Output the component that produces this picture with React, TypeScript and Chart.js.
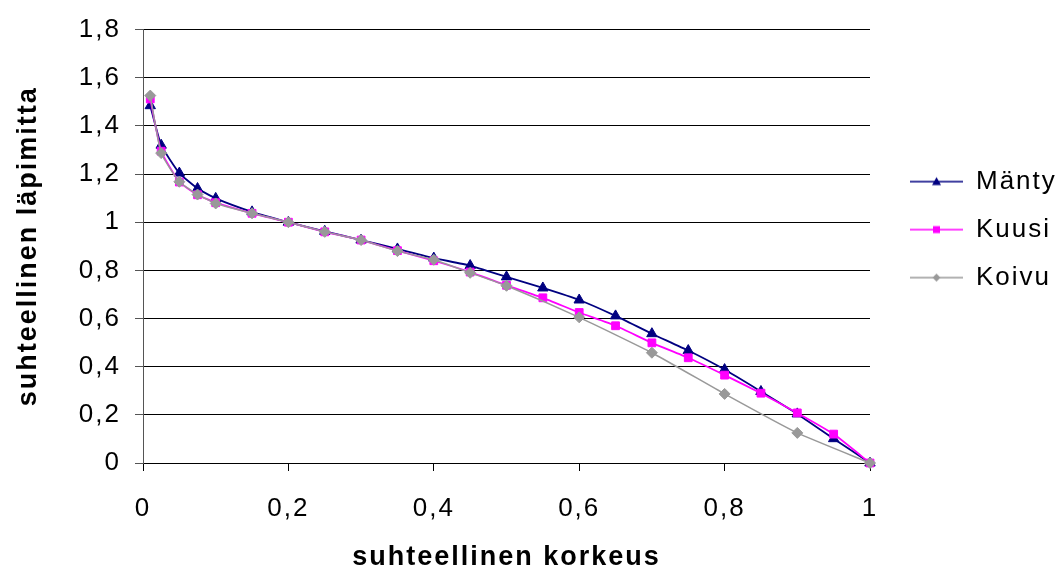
import React, { useEffect, useRef } from 'react';
import { Chart, registerables } from 'chart.js';

Chart.register(...registerables);

// ---- data ----
const xPositions = [0.01, 0.025, 0.05, 0.075, 0.1, 0.15, 0.2, 0.25, 0.3, 0.35, 0.4, 0.45, 0.5, 0.55, 0.6, 0.65, 0.7, 0.75, 0.8, 0.85, 0.9, 0.95, 1.0];
const mantyValues = [1.484, 1.32, 1.204, 1.14, 1.099, 1.043, 1.0, 0.962, 0.926, 0.889, 0.851, 0.82, 0.773, 0.727, 0.677, 0.611, 0.537, 0.467, 0.388, 0.297, 0.204, 0.101, 0];
const kuusiValues = [1.512, 1.295, 1.167, 1.114, 1.081, 1.037, 1.0, 0.96, 0.926, 0.882, 0.84, 0.793, 0.738, 0.686, 0.625, 0.57, 0.499, 0.437, 0.365, 0.29, 0.208, 0.12, 0];
const koivuValues = [1.526, 1.287, 1.168, 1.115, 1.078, 1.037, 1.0, 0.96, 0.926, 0.88, 0.844, 0.79, 0.736, null, 0.605, null, 0.458, null, 0.287, null, 0.125, null, 0];
const seriesNames = ['Mänty', 'Kuusi', 'Koivu'];
const xTickValues = [0, 0.2, 0.4, 0.6, 0.8, 1];
const yTickValues = [0, 0.2, 0.4, 0.6, 0.8, 1, 1.2, 1.4, 1.6, 1.8];
const xAxisTitle = 'suhteellinen korkeus';
const yAxisTitle = 'suhteellinen läpimitta';

const seriesColors = ['#000080', '#FF00FF', '#999999'];
const seriesStyles = ['triangle', 'rect', 'rectRot'];
const seriesRadii = [6, 5.5, 5.5];
const seriesLineWidths = [1.8, 1.8, 1.5];

const FONT = '"Liberation Sans", Arial, sans-serif';

function fmt(v: number): string {
  return String(v).replace('.', ',');
}

function makeLegendImage(color: string, style: string): HTMLCanvasElement {
  const c = document.createElement('canvas');
  c.width = 71;
  c.height = 14;
  const g = c.getContext('2d') as CanvasRenderingContext2D;
  g.strokeStyle = color;
  g.lineWidth = 1.5;
  g.beginPath();
  g.moveTo(18, 7);
  g.lineTo(71, 7);
  g.stroke();
  g.fillStyle = color;
  const cx = 44.5;
  const cy = 7;
  g.beginPath();
  if (style === 'triangle') {
    g.moveTo(cx, cy - 4.5);
    g.lineTo(cx + 4.5, cy + 3.5);
    g.lineTo(cx - 4.5, cy + 3.5);
    g.closePath();
  } else if (style === 'rect') {
    g.rect(cx - 3.5, cy - 3.5, 7, 7);
  } else {
    g.moveTo(cx, cy - 4);
    g.lineTo(cx + 4, cy);
    g.lineTo(cx, cy + 4);
    g.lineTo(cx - 4, cy);
    g.closePath();
  }
  g.fill();
  return c;
}

const spacingPlugin = {
  id: 'letterSpacing',
  beforeUpdate(chart: any) { (chart.ctx as any).letterSpacing = '2px'; },
  beforeLayout(chart: any) { (chart.ctx as any).letterSpacing = '2px'; },
  beforeDraw(chart: any) { (chart.ctx as any).letterSpacing = '2px'; },
};

export default function App() {
  const canvasRef = useRef<HTMLCanvasElement | null>(null);

  useEffect(() => {
    document.body.style.margin = '0';
    const canvas = canvasRef.current;
    if (!canvas) return;
    const allValues = [mantyValues, kuusiValues, koivuValues];
    const legendImages = seriesNames.map((_, i) => makeLegendImage(seriesColors[i], seriesStyles[i]));

    const datasets = seriesNames.map((name, i) => ({
      label: name,
      data: xPositions.map((x, j) => ({ x, y: allValues[i][j] })),
      borderColor: seriesColors[i],
      backgroundColor: seriesColors[i],
      pointBackgroundColor: seriesColors[i],
      pointBorderColor: seriesColors[i],
      pointStyle: seriesStyles[i],
      pointRadius: seriesRadii[i],
      pointBorderWidth: 1,
      borderWidth: seriesLineWidths[i],
      tension: 0.15,
      spanGaps: true,
      clip: false,
      order: 2 - i,
    }));

    const chart = new Chart(canvas, {
      type: 'line',
      data: { datasets } as any,
      plugins: [spacingPlugin as any],
      options: {
        animation: false,
        responsive: true,
        maintainAspectRatio: false,
        layout: { padding: { top: 25, left: 0, right: 0, bottom: 0 } },
        plugins: {
          tooltip: { enabled: false },
          legend: {
            position: 'right',
            align: 'start',
            fullSize: false,
            maxWidth: 190,
            title: { display: true, text: '', font: { size: 12, lineHeight: 1 }, padding: { top: 105, bottom: 0 } },
            labels: {
              usePointStyle: true,
              pointStyleWidth: 71,
              padding: 22,
              color: '#000',
              font: { family: FONT, size: 26 },
              generateLabels: (ch: any) =>
                ch.data.datasets.map((ds: any, i: number) => ({
                  text: ds.label,
                  fillStyle: ds.borderColor,
                  strokeStyle: ds.borderColor,
                  lineWidth: 0,
                  hidden: !ch.isDatasetVisible(i),
                  datasetIndex: i,
                  pointStyle: legendImages[i],
                  fontColor: '#000',
                })),
            },
          },
        },
        scales: {
          x: {
            type: 'linear',
            min: 0,
            max: 1,
            afterBuildTicks: (scale: any) => { scale.ticks = xTickValues.map((v) => ({ value: v })); },
            afterFit: (scale: any) => { scale.height = 108; },
            ticks: {
              color: '#000',
              font: { family: FONT, size: 26 },
              padding: 22,
              maxRotation: 0,
              autoSkip: false,
              callback: (v: any) => fmt(Number(v)),
            },
            grid: { drawOnChartArea: false, drawTicks: true, tickLength: 8, tickColor: '#000' },
            border: { color: '#000', width: 1 },
            title: {
              display: true,
              text: xAxisTitle,
              color: '#000',
              font: { family: FONT, size: 27, weight: 'bold', lineHeight: 1 },
              padding: { top: 0, bottom: 0 },
            },
          },
          y: {
            type: 'linear',
            min: 0,
            max: 1.8,
            afterBuildTicks: (scale: any) => { scale.ticks = yTickValues.map((v) => ({ value: v })); },
            afterFit: (scale: any) => { scale.width = 143; },
            ticks: {
              color: '#000',
              font: { family: FONT, size: 26 },
              padding: 14,
              autoSkip: false,
              callback: (v: any) => fmt(Number(v)),
            },
            grid: { color: '#000', lineWidth: 1, drawTicks: true, tickLength: 8, tickColor: '#555' },
            border: { color: '#555', width: 1 },
            title: {
              display: true,
              text: yAxisTitle,
              color: '#000',
              font: { family: FONT, size: 27, weight: 'bold', lineHeight: 1 },
              padding: { top: 15, bottom: 0 },
            },
          },
        },
      } as any,
    });

    return () => chart.destroy();
  }, []);

  return (
    <div style={{ width: 1060, height: 571, position: 'relative', background: '#fff' }}>
      <canvas ref={canvasRef} />
    </div>
  );
}
